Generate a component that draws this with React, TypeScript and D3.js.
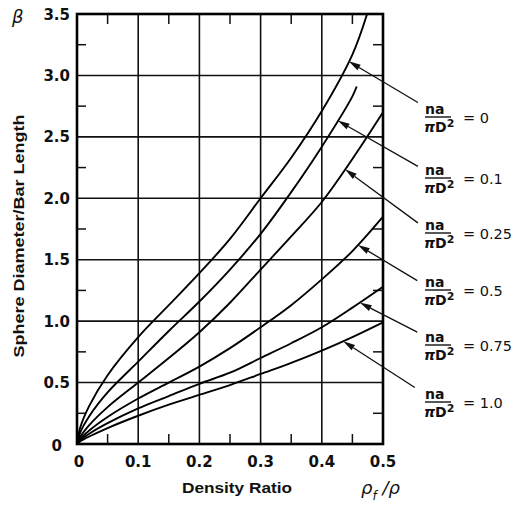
import React from 'react';
import * as d3 from 'd3';

// ---- data ----
const xTickValues = [0, 0.1, 0.2, 0.3, 0.4, 0.5];
const xTickLabels = ['0', '0.1', '0.2', '0.3', '0.4', '0.5'];
const yTickValues = [0, 0.5, 1.0, 1.5, 2.0, 2.5, 3.0, 3.5];
const yTickLabels = ['0', '0.5', '1.0', '1.5', '2.0', '2.5', '3.0', '3.5'];
const xMinorTicks = [0.05, 0.15, 0.25, 0.35, 0.45];
const yMinorTicks = [0.25, 0.75, 1.25, 1.75, 2.25, 2.75, 3.25];

const seriesLabels = ['0', '0.1', '0.25', '0.5', '0.75', '1.0'];

const xs0 = [0, 0.005, 0.02, 0.05, 0.1, 0.15, 0.2, 0.25, 0.3, 0.35, 0.4, 0.45, 0.474];
const beta0 = [0, 0.13, 0.31, 0.56, 0.87, 1.13, 1.39, 1.67, 2.0, 2.33, 2.71, 3.17, 3.5];
const xs01 = [0, 0.005, 0.02, 0.05, 0.1, 0.15, 0.2, 0.25, 0.3, 0.35, 0.4, 0.45, 0.457];
const beta01 = [0, 0.09, 0.226, 0.42, 0.67, 0.92, 1.16, 1.42, 1.71, 2.05, 2.42, 2.83, 2.91];
const xsFull = [0, 0.005, 0.02, 0.05, 0.1, 0.15, 0.2, 0.25, 0.3, 0.35, 0.4, 0.45, 0.5];
const beta025 = [0, 0.055, 0.153, 0.30, 0.50, 0.70, 0.91, 1.15, 1.42, 1.69, 1.97, 2.32, 2.70];
const beta05 = [0, 0.039, 0.11, 0.22, 0.37, 0.50, 0.63, 0.78, 0.95, 1.13, 1.34, 1.57, 1.85];
const beta075 = [0, 0.029, 0.084, 0.17, 0.29, 0.39, 0.49, 0.58, 0.70, 0.82, 0.95, 1.11, 1.28];
const beta10 = [0, 0.02, 0.061, 0.13, 0.23, 0.32, 0.40, 0.48, 0.57, 0.66, 0.76, 0.87, 0.99];

const seriesX = [xs0, xs01, xsFull, xsFull, xsFull, xsFull];
const seriesBeta = [beta0, beta01, beta025, beta05, beta075, beta10];

// arrows: head x on curve, tail position (data coords)
const arrowHeadX = [0.444, 0.426, 0.438, 0.459, 0.462, 0.435];
const arrowTailX = [0.557, 0.557, 0.557, 0.556, 0.556, 0.552];
const arrowTailBeta = [2.78, 2.26, 1.80, 1.33, 0.91, 0.46];

// ---- layout ----
const W = 515;
const H = 508;
const left = 77;
const right = 383;
const top = 14;
const bottom = 444;
const labelX = 425;
const labelFracY = [117, 178, 233, 290, 345, 402];
const FONT = "'DejaVu Sans', 'Liberation Sans', sans-serif";
const TFONT = "'Liberation Sans', Arial, sans-serif";

export default function App() {
  const x = d3.scaleLinear().domain([0, 0.5]).range([left, right]);
  const y = d3.scaleLinear().domain([0, 3.5]).range([bottom, top]);

  const line = d3
    .line<[number, number]>()
    .x((d) => x(d[0]))
    .y((d) => y(d[1]))
    .curve(d3.curveCatmullRom.alpha(0.5));

  const interp = (xsArr: number[], bArr: number[], xv: number) => {
    const i = Math.max(1, d3.bisectLeft(xsArr, xv));
    const x0 = xsArr[i - 1], x1 = xsArr[i];
    const t = (xv - x0) / (x1 - x0);
    return bArr[i - 1] + t * (bArr[i] - bArr[i - 1]);
  };

  return (
    <svg
      width={W}
      height={H}
      viewBox={`0 0 ${W} ${H}`}
      style={{ position: 'absolute', left: 0, top: 0, background: '#fff' }}
    >
      <rect x={0} y={0} width={W} height={H} fill="#fff" />
      {/* grid */}
      {xTickValues.slice(1, -1).map((v) => (
        <line key={'gx' + v} x1={x(v)} x2={x(v)} y1={top} y2={bottom} stroke="#111" strokeWidth={1.6} />
      ))}
      {yTickValues.slice(1, -1).map((v) => (
        <line key={'gy' + v} x1={left} x2={right} y1={y(v)} y2={y(v)} stroke="#111" strokeWidth={1.6} />
      ))}
      {/* minor ticks */}
      {xMinorTicks.map((v) => (
        <g key={'mx' + v}>
          <line x1={x(v)} x2={x(v)} y1={top} y2={top + 10} stroke="#111" strokeWidth={1.5} />
          <line x1={x(v)} x2={x(v)} y1={bottom} y2={bottom - 10} stroke="#111" strokeWidth={1.5} />
        </g>
      ))}
      {yMinorTicks.map((v) => (
        <g key={'my' + v}>
          <line x1={left} x2={left + 9} y1={y(v)} y2={y(v)} stroke="#111" strokeWidth={1.5} />
          <line x1={right} x2={right - 10} y1={y(v)} y2={y(v)} stroke="#111" strokeWidth={1.5} />
        </g>
      ))}
      {/* frame */}
      <rect x={left} y={top} width={right - left} height={bottom - top} fill="none" stroke="#000" strokeWidth={2.6} />

      {/* curves */}
      {seriesBeta.map((b, i) => {
        const pts = seriesX[i].map((xv, j) => [xv, b[j]] as [number, number]);
        return <path key={'c' + i} d={line(pts) || ''} fill="none" stroke="#000" strokeWidth={1.9} />;
      })}

      {/* arrows */}
      {arrowHeadX.map((hx, i) => {
        const hb = interp(seriesX[i], seriesBeta[i], hx);
        const x1 = x(hx), y1 = y(hb);
        const x2 = x(arrowTailX[i]), y2 = y(arrowTailBeta[i]);
        const ang = Math.atan2(y2 - y1, x2 - x1);
        const L = 12, Wd = 3.2;
        const bx = x1 + L * Math.cos(ang), by = y1 + L * Math.sin(ang);
        const px = -Math.sin(ang) * Wd, py = Math.cos(ang) * Wd;
        return (
          <g key={'a' + i}>
            <line x1={bx} y1={by} x2={x2} y2={y2} stroke="#111" strokeWidth={1.3} />
            <path d={`M${x1},${y1}L${bx + px},${by + py}L${bx - px},${by - py}Z`} fill="#111" />
          </g>
        );
      })}

      {/* series labels */}
      {seriesLabels.map((s, i) => {
        const fy = labelFracY[i];
        return (
          <g key={'l' + i} fontFamily={FONT} fontWeight="bold" fill="#111">
            <text x={labelX} y={fy - 3} fontSize={14}>na</text>
            <line x1={labelX} x2={labelX + 26} y1={fy} y2={fy} stroke="#111" strokeWidth={1.4} />
            <text x={labelX - 1} y={fy + 15} fontSize={14}>
              <tspan fontStyle="italic">π</tspan>D<tspan fontSize={11} dy={-5}>2</tspan>
            </text>
            <text x={labelX + 38} y={fy + 6} fontSize={14.5} fontWeight="normal">{'= ' + s}</text>
          </g>
        );
      })}

      {/* tick labels */}
      {yTickValues.map((v, i) => (
        <text
          key={'ty' + v}
          x={v === 0 ? 62 : 70}
          y={y(v) + (v === 0 ? 7 : 5.5)}
          textAnchor="end"
          fontFamily={FONT}
          fontWeight="bold"
          fontSize={15}
          fill="#111"
        >
          {yTickLabels[i]}
        </text>
      ))}
      {xTickValues.map((v, i) => (
        <text
          key={'tx' + v}
          x={x(v) + (v === 0 ? 2 : 0)}
          y={467}
          textAnchor="middle"
          fontFamily={FONT}
          fontWeight="bold"
          fontSize={15}
          fill="#111"
        >
          {xTickLabels[i]}
        </text>
      ))}

      {/* beta symbol */}
      <text x={12} y={23} fontFamily={FONT} fontStyle="italic" fontSize={18} fill="#111">β</text>

      {/* axis titles */}
      <text
        transform="translate(24,236) rotate(-90)"
        textAnchor="middle"
        fontFamily={TFONT}
        fontWeight="bold"
        fontSize={15}
        fill="#111"
        textLength={243}
        lengthAdjust="spacingAndGlyphs"
      >
        Sphere Diameter/Bar Length
      </text>
      <text
        x={237}
        y={493}
        textAnchor="middle"
        fontFamily={TFONT}
        fontWeight="bold"
        fontSize={15}
        fill="#111"
        textLength={110}
        lengthAdjust="spacingAndGlyphs"
      >
        Density Ratio
      </text>
      <text x={361} y={494} fontFamily={FONT} fontStyle="italic" fontSize={18} fill="#111">
        ρ<tspan fontSize={12} dy={6}>f</tspan><tspan dy={-6}> /</tspan>ρ
      </text>
    </svg>
  );
}
